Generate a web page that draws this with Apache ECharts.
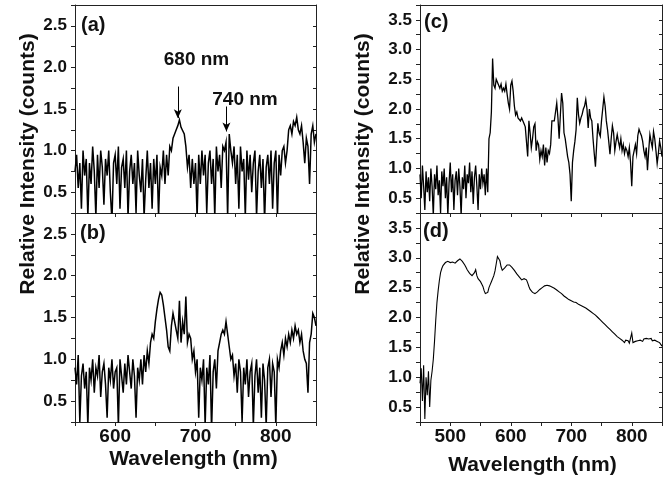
<!DOCTYPE html>
<html>
<head>
<meta charset="utf-8">
<script src="https://cdn.jsdelivr.net/npm/echarts@6/dist/echarts.min.js"></script>
<style>html,body{margin:0;padding:0;background:#fff}#c{width:667px;height:478px}</style>
</head>
<body>
<div id="c"></div>
<script>
// Sampling grids (nm): start, step
const gridAB = { start: 550, step: 2 };
const gridCD = { start: 450, step: 2 };

// Panel (a) relative intensity, 550–850 nm
const seriesA = [
  0.75,0.95,0.55,0.85,0.3,1.0,0.7,0.9,0.2,0.85,
  0.6,1.05,0.75,0.2,0.95,0.55,1.0,0.8,0.35,0.9,
  0.7,1.0,0.5,0.15,0.85,0.95,0.6,1.05,0.3,0.8,
  0.9,0.55,1.0,0.2,0.75,0.95,0.6,0.85,0.25,1.0,
  0.7,0.5,0.9,0.2,0.65,1.0,0.55,0.85,0.3,0.9,
  0.6,0.95,0.2,0.8,0.7,1.0,0.6,0.95,0.7,1.05,
  1.0,1.15,1.2,1.25,1.3,1.37,1.28,1.3,1.2,1.05,
  0.8,0.95,0.55,0.9,0.6,0.85,0.2,0.95,0.6,1.0,
  0.7,0.95,0.25,0.85,1.0,0.6,0.9,0.2,1.05,0.75,
  0.95,0.55,1.05,1.0,1.1,0.2,1.2,1.0,0.85,1.05,
  0.6,0.95,0.3,1.05,0.75,0.9,0.2,1.0,0.65,0.95,
  0.5,0.85,1.0,0.2,0.75,0.95,0.55,0.9,0.15,0.8,
  0.95,0.6,1.0,0.3,0.85,1.0,0.2,0.95,0.7,1.0,
  1.05,0.85,1.0,1.25,1.3,1.2,1.35,1.3,1.4,1.25,
  1.2,1.3,1.1,0.85,1.15,1.05,0.6,1.2,1.3,1.1,
  1.2
];

// Panel (b) relative intensity, 550–850 nm
const seriesB = [
  0.9,0.7,1.05,0.25,0.8,0.95,0.65,0.85,0.2,0.9,
  0.75,1.0,0.6,0.9,0.8,1.05,0.55,0.85,0.95,0.7,
  0.3,0.9,0.75,1.0,0.65,0.85,0.9,0.2,1.0,0.8,
  0.6,0.95,0.7,1.05,0.85,0.65,1.0,0.8,0.3,0.9,
  0.75,1.0,0.7,1.05,0.85,1.1,0.95,1.2,1.3,1.25,
  1.45,1.6,1.72,1.8,1.77,1.65,1.5,1.35,1.15,1.1,
  1.4,1.55,1.45,1.35,1.25,1.7,1.2,1.45,1.3,1.75,
  1.2,1.3,1.25,1.0,1.1,0.85,1.0,0.3,0.9,0.75,
  1.0,0.2,0.9,0.7,1.05,0.15,0.85,1.0,0.65,1.1,
  1.2,1.3,1.35,1.3,1.45,1.3,1.15,1.0,1.05,0.8,
  0.95,0.6,1.0,0.85,0.25,0.9,0.7,1.0,0.55,0.85,
  0.95,0.2,0.8,1.0,0.6,0.9,0.3,0.95,0.75,0.2,
  0.9,1.0,0.55,0.95,0.85,0.2,1.0,0.9,1.1,1.2,
  1.05,1.25,1.15,1.3,1.2,1.35,1.25,1.4,1.3,1.35,
  1.2,1.3,1.1,1.0,0.95,0.6,1.2,1.3,1.55,1.5,
  1.4
];

// Panel (c) relative intensity, 450–850 nm
const seriesC = [
  0.9,0.5,1.05,0.7,0.3,0.95,0.6,0.85,0.45,1.0,
  0.7,0.2,0.9,0.65,1.05,0.55,0.8,0.25,0.95,0.7,
  1.0,0.5,0.85,0.2,0.75,1.1,0.6,0.9,0.3,0.8,
  0.95,0.55,1.0,0.7,0.2,0.85,0.65,1.05,0.5,0.9,
  0.75,1.1,0.6,0.95,0.4,0.85,1.05,0.7,0.3,0.9,
  0.65,1.0,0.75,0.9,0.55,1.0,0.6,1.5,1.6,1.95,
  2.85,2.4,2.35,2.5,2.45,2.4,2.35,2.42,2.3,2.35,
  2.3,2.42,2.25,2.1,2.0,2.4,2.47,2.3,2.05,1.9,
  1.95,1.85,1.88,1.8,1.85,1.86,1.75,1.7,1.72,1.2,
  1.8,1.6,1.35,1.5,1.7,1.75,1.3,1.45,1.4,1.15,
  1.3,1.2,1.4,1.05,1.35,1.1,1.3,1.25,1.4,1.8,
  1.82,1.8,1.95,2.1,1.85,1.5,1.9,2.27,2.1,1.6,
  1.5,1.35,1.2,1.1,0.9,0.45,1.1,1.3,1.45,1.65,
  2.19,1.9,1.76,1.85,1.91,2.0,2.05,2.16,2.0,1.68,
  2.0,1.85,1.8,1.5,1.25,1.03,1.4,1.76,1.6,1.54,
  1.8,2.0,2.2,2.05,1.8,1.65,1.45,1.24,1.5,1.72,
  1.6,1.3,1.45,1.57,1.45,1.35,1.5,1.3,1.4,1.25,
  1.35,1.3,1.2,1.35,1.1,0.7,1.2,1.3,1.4,1.25,
  1.55,1.66,1.6,1.55,1.46,1.3,1.2,1.35,0.97,1.3,
  1.57,1.45,1.35,1.62,1.5,1.3,1.08,1.25,1.46,1.35,
  1.2
];

// Panel (d) relative intensity, 450–850 nm
const seriesD = [
  0.9,1.15,0.6,1.2,0.3,1.0,0.7,1.1,0.5,0.95,
  1.1,1.3,1.6,1.95,2.25,2.45,2.62,2.75,2.82,2.87,
  2.9,2.92,2.93,2.94,2.93,2.92,2.94,2.93,2.9,2.91,
  2.94,2.95,2.96,2.98,2.97,2.94,2.92,2.88,2.84,2.8,
  2.78,2.74,2.72,2.7,2.68,2.75,2.8,2.7,2.65,2.62,
  2.6,2.56,2.52,2.45,2.4,2.37,2.42,2.5,2.55,2.6,
  2.63,2.7,2.78,2.9,3.02,3.05,2.95,2.85,2.79,2.8,
  2.83,2.86,2.88,2.89,2.88,2.86,2.84,2.82,2.79,2.76,
  2.73,2.71,2.68,2.65,2.63,2.62,2.65,2.68,2.63,2.58,
  2.52,2.47,2.44,2.42,2.41,2.4,2.41,2.43,2.45,2.47,
  2.49,2.5,2.52,2.53,2.54,2.54,2.53,2.53,2.52,2.51,
  2.5,2.49,2.47,2.46,2.45,2.43,2.41,2.4,2.38,2.36,
  2.35,2.33,2.31,2.3,2.29,2.28,2.27,2.26,2.25,2.25,
  2.23,2.22,2.22,2.2,2.19,2.18,2.16,2.16,2.14,2.13,
  2.12,2.1,2.09,2.07,2.06,2.04,2.02,2.0,1.98,1.96,
  1.94,1.92,1.9,1.88,1.86,1.84,1.82,1.8,1.78,1.76,
  1.74,1.72,1.7,1.68,1.66,1.65,1.63,1.62,1.6,1.58,
  1.62,1.59,1.61,1.57,1.6,1.74,1.58,1.55,1.6,1.57,
  1.61,1.58,1.62,1.63,1.6,1.64,1.61,1.65,1.62,1.64,
  1.63,1.65,1.61,1.64,1.62,1.63,1.6,1.62,1.58,1.56,
  1.52
];

// Axis ranges and tick labels
const xRangeAB = [550, 850];
const xRangeCD = [450, 850];
const yRangeAB = [0.25, 2.75];
const yRangeCD = [0.25, 3.75];
const xTickLabelsAB = [600, 700, 800];
const xTickLabelsCD = [500, 600, 700, 800];
const yTickLabelsAB = [0.5, 1.0, 1.5, 2.0, 2.5];
const yTickLabelsCD = [0.5, 1.0, 1.5, 2.0, 2.5, 3.0, 3.5];

// Annotations on panel (a): [wavelength, arrowTop, arrowTip]
const arrow680 = [678, 1.77, 1.39];
const arrow740 = [738.5, 1.53, 1.23];

const FONT = '"Liberation Sans", Arial, Helvetica, sans-serif';
const AXC = '#222';

function toPairs(g, vals) { return vals.map((v, i) => [g.start + g.step * i, v]); }

const grids = [
  { left: 75, top: 5, width: 241, height: 208 },
  { left: 75, top: 213, width: 241, height: 209 },
  { left: 420, top: 5, width: 242, height: 208 },
  { left: 420, top: 213, width: 242, height: 209 }
];

const xAxes = [], yAxes = [], series = [];
const panels = [
  { xr: xRangeAB, yr: yRangeAB, xl: xTickLabelsAB, yl: yTickLabelsAB, labelsX: false, lw: 1.5, data: toPairs(gridAB, seriesA) },
  { xr: xRangeAB, yr: yRangeAB, xl: xTickLabelsAB, yl: yTickLabelsAB, labelsX: true,  lw: 1.5, data: toPairs(gridAB, seriesB) },
  { xr: xRangeCD, yr: yRangeCD, xl: xTickLabelsCD, yl: yTickLabelsCD, labelsX: false, lw: 1.3, data: toPairs(gridCD, seriesC) },
  { xr: xRangeCD, yr: yRangeCD, xl: xTickLabelsCD, yl: yTickLabelsCD, labelsX: true,  lw: 1.1, data: toPairs(gridCD, seriesD) }
];

panels.forEach((p, gi) => {
  const xi = xAxes.length, yi = yAxes.length;
  xAxes.push({
    type: 'value', gridIndex: gi, position: 'bottom', min: p.xr[0], max: p.xr[1], interval: 50,
    axisLine: { show: true, onZero: false, lineStyle: { color: AXC, width: 1 } },
    axisTick: { show: true, inside: false, length: 4, lineStyle: { color: AXC } },
    axisLabel: {
      show: p.labelsX, margin: 5, color: '#111', fontFamily: FONT, fontWeight: 'bold', fontSize: 19,
      showMinLabel: true, showMaxLabel: true,
      formatter: v => (p.xl.indexOf(v) >= 0 ? String(v) : '')
    },
    splitLine: { show: false }
  });
  xAxes.push({
    type: 'value', gridIndex: gi, position: 'top', min: p.xr[0], max: p.xr[1], interval: 50,
    axisLine: { show: true, onZero: false, lineStyle: { color: AXC, width: 1 } },
    axisTick: { show: false }, axisLabel: { show: false }, splitLine: { show: false }
  });
  yAxes.push({
    type: 'value', gridIndex: gi, position: 'left', min: p.yr[0], max: p.yr[1], interval: 0.25,
    axisLine: { show: true, onZero: false, lineStyle: { color: AXC, width: 1 } },
    axisTick: { show: true, inside: false, length: 4, lineStyle: { color: AXC } },
    axisLabel: {
      margin: 8, color: '#111', fontFamily: FONT, fontWeight: 'bold', fontSize: 17,
      formatter: v => (p.yl.some(t => Math.abs(t - v) < 1e-6) ? v.toFixed(1) : '')
    },
    splitLine: { show: false }
  });
  yAxes.push({
    type: 'value', gridIndex: gi, position: 'right', min: p.yr[0], max: p.yr[1], interval: 0.25,
    axisLine: { show: true, onZero: false, lineStyle: { color: AXC, width: 1 } },
    axisTick: { show: true, inside: true, length: 3, lineStyle: { color: AXC } },
    axisLabel: { show: false }, splitLine: { show: false }
  });
  const s = {
    type: 'line', xAxisIndex: xi, yAxisIndex: yi, data: p.data,
    showSymbol: false, symbol: 'none', clip: true, silent: true,
    lineStyle: { color: '#000', width: p.lw, join: 'miter' }, animation: false
  };
  if (gi === 0) {
    s.markLine = {
      silent: true, animation: false, symbol: ['none', 'arrow'], symbolSize: [6, 9],
      label: { show: false },
      lineStyle: { color: '#000', width: 1, type: 'solid' },
      data: [
        [{ coord: [arrow680[0], arrow680[1]] }, { coord: [arrow680[0], arrow680[2]] }],
        [{ coord: [arrow740[0], arrow740[1]] }, { coord: [arrow740[0], arrow740[2]] }]
      ]
    };
  }
  series.push(s);
});

function txt(text, x, y, size, opts) {
  return Object.assign({
    type: 'text', x: x, y: y, silent: true,
    style: { text: text, fill: '#111', font: 'bold ' + size + 'px ' + FONT,
      textAlign: (opts && opts.align) || 'left', textVerticalAlign: 'middle' }
  }, opts && opts.rotation ? { rotation: opts.rotation } : {});
}

const graphics = [
  txt('(a)', 81, 25.5, 20),
  txt('(b)', 80, 233.5, 20),
  txt('(c)', 424, 22.5, 20),
  txt('(d)', 423, 231, 20),
  txt('680 nm', 196.5, 60, 19, { align: 'center' }),
  txt('740 nm', 245, 99.5, 19, { align: 'center' }),
  txt('Relative Intensity (counts)', 28.5, 164, 21, { align: 'center', rotation: Math.PI / 2 }),
  txt('Relative Intensity (counts)', 363.5, 164, 21, { align: 'center', rotation: Math.PI / 2 }),
  txt('Wavelength (nm)', 193.5, 459, 21, { align: 'center' }),
  txt('Wavelength (nm)', 532.5, 465, 21, { align: 'center' })
];

const chart = echarts.init(document.getElementById('c'), null, { renderer: 'canvas' });
chart.setOption({
  animation: false,
  backgroundColor: '#fff',
  grid: grids.map(g => Object.assign({ containLabel: false, outerBoundsMode: 'none' }, g)),
  xAxis: xAxes,
  yAxis: yAxes,
  series: series,
  graphic: graphics
});
</script>
</body>
</html>
